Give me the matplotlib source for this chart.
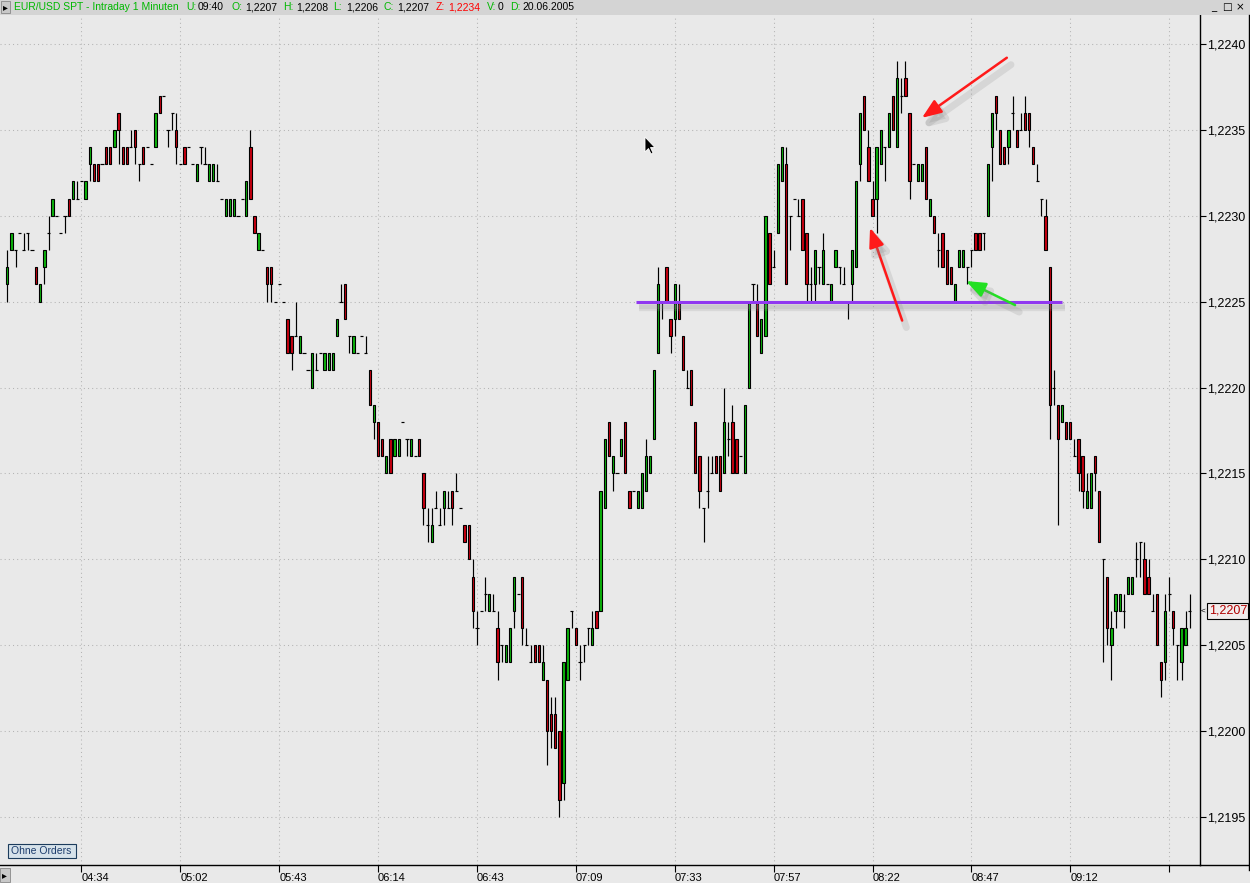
import matplotlib
matplotlib.use('Agg')
import matplotlib.pyplot as plt
from matplotlib.patches import Rectangle, Polygon
from matplotlib.transforms import IdentityTransform
import matplotlib.patheffects as pe

# ---------------- data (1-minute candles, values in pips above 1.2200) -------------
BASE = 1.2200
PIP = 0.0001

OPEN = [26,28,28,29,28,29,28,27,25,27,29,30,30,29,30,31,31,31,32,31,33,33,33,33,
        34,34,34,36,34,34,34,35,33,34,34,33,34,37,37,35,36,35,33,34,34,33,32,34,
        33,32,32,32,31,30,30,30,30,31,30,34,30,28,28,27,27,25,26,25,24,23,23,22,
        22,21,20,21,22,21,21,21,23,25,26,23,22,22,23,22,21,18,18,17,15,17,16,16,
        18,17,16,16,17,15,12,11,13,12,13,13,14,14,13,12,12,9,6,7,8,7,7,6,
        5,4,4,7,8,9,5,4,5,5,3,3,1,1,0,-3,3,7,6,4,5,6,5,7,
        7,13,18,15,15,16,18,14,14,13,13,14,15,17,22,25,27,24,24,25,23,20,21,18,
        16,13,14,15,16,16,15,17,18,17,16,15,20,26,25,22,23,29,27,29,32,33,30,31,
        30,31,29,26,26,27,26,26,25,27,27,26,25,26,27,33,37,34,31,31,33,34,34,37,
        34,37,38,36,33,32,32,34,30,30,28,29,28,27,25,27,27,27,28,29,29,29,30,34,
        37,35,34,34,36,35,35,36,36,34,32,31,30,27,20,19,18,18,18,16,17,16,13,13,
        16,14,10,9,5,7,7,7,8,8,10,11,10,9,7,8,4,4,8,7,5,4,5,7]

HIGH = [28,29,28,29,29,29,28,27,26,28,30,31,30,29,30,31,32,32,32,32,34,33,33,33,
        34,34,35,36,34,34,35,35,33,34,34,33,36,37,37,35,36,36,33,34,34,33,33,34,
        34,33,33,33,31,31,31,31,30,31,32,35,30,29,28,27,27,25,26,25,24,23,25,23,
        22,21,22,22,22,22,22,22,24,26,26,23,23,22,23,23,21,19,18,17,16,17,17,17,
        18,17,17,16,17,15,13,13,14,13,14,14,14,15,13,12,12,10,7,7,9,8,8,7,
        5,5,6,9,8,9,6,5,5,5,5,3,2,2,0,4,6,7,6,5,5,6,7,7,
        14,17,18,16,15,17,18,14,14,14,15,17,16,21,27,25,27,24,26,26,23,21,21,18,
        16,13,16,16,16,16,20,18,19,17,16,19,25,26,26,24,30,29,28,33,34,34,30,31,
        31,31,29,27,28,27,29,26,26,28,27,27,25,28,32,36,37,35,32,34,35,34,36,37,
        39,38,39,36,33,33,33,34,31,30,29,29,28,27,26,28,28,27,28,29,29,29,33,36,
        37,35,34,35,37,35,36,37,36,34,33,31,31,27,21,19,19,18,18,17,17,16,15,15,
        16,14,10,9,7,8,8,8,9,9,11,11,11,10,8,8,4,8,9,7,5,6,7,8]

LOW = [25,28,27,29,28,28,28,26,25,26,28,30,30,29,29,30,31,31,32,31,32,32,32,33,
       33,33,34,33,33,33,34,33,32,33,34,33,34,36,37,34,35,33,33,33,34,33,32,33,
       33,32,32,32,31,30,30,30,30,31,30,31,29,28,28,25,25,25,26,25,22,21,23,22,
       22,21,20,21,22,21,21,21,23,25,24,22,22,22,23,22,19,17,16,16,15,15,16,16,
       18,16,16,16,16,12,11,11,13,12,12,13,12,14,13,11,10,6,5,7,7,7,7,3,
       4,4,4,6,8,5,5,4,4,4,3,-2,-1,-1,-5,-4,3,6,5,3,4,5,5,6,
       7,13,16,14,15,16,15,13,14,13,13,14,15,17,22,24,25,22,23,24,21,20,19,15,
       13,11,13,15,15,14,15,16,15,15,16,15,20,25,23,22,23,26,27,29,32,26,28,31,
       30,28,25,25,25,26,26,26,25,27,26,26,24,25,27,32,35,32,30,29,33,32,34,35,
       34,36,37,31,33,32,32,31,30,29,27,27,26,26,25,27,27,26,27,28,28,28,30,32,
       35,33,33,33,35,34,35,35,34,33,32,30,28,17,19,12,18,17,17,16,14,13,13,13,
       14,11,4,5,3,6,7,6,8,8,9,9,8,8,7,5,2,3,7,5,3,3,5,6]

CLOSE = [27,29,28,29,28,29,28,26,26,28,29,31,30,29,30,30,32,31,32,32,34,32,32,33,
         33,33,35,35,33,33,34,34,33,33,34,33,36,36,37,35,36,34,33,33,34,33,33,34,
         33,33,33,32,31,31,31,31,30,31,32,31,29,29,28,26,26,25,26,25,22,22,23,23,
         22,21,22,21,22,22,22,22,24,25,24,23,23,22,23,22,19,19,16,16,16,15,17,17,
         18,17,17,16,16,13,12,12,13,12,14,13,13,14,13,11,10,7,6,7,8,8,7,4,
         5,5,6,9,8,6,5,4,4,4,4,0,0,-1,-4,4,6,7,5,4,5,6,6,6,
         14,17,16,16,15,17,15,13,14,14,15,16,16,21,26,25,25,23,26,24,21,20,19,15,
         14,13,14,15,15,14,18,17,15,15,16,19,25,26,23,24,30,26,27,33,34,26,30,31,
         30,28,26,26,28,27,28,26,26,28,27,26,25,28,32,36,35,32,30,34,35,34,36,35,
         38,37,37,32,33,33,33,31,31,29,28,27,26,26,26,28,28,27,28,28,28,29,33,36,
         36,33,33,35,36,34,35,35,35,33,32,31,28,19,20,17,19,17,17,16,15,14,14,15,
         15,11,10,6,6,8,8,7,9,9,10,11,8,8,7,5,3,7,8,6,5,6,6,7]

TIME_TICK_IDX = [18, 42, 66, 90, 114, 138, 162, 186, 210, 234, 258, 282]
TIME_LABELS = ['04:34', '05:02', '05:43', '06:14', '06:43', '07:09', '07:33',
               '07:57', '08:22', '08:47', '09:12', '']
PRICE_TICKS = [1.2195, 1.2200, 1.2205, 1.2210, 1.2215, 1.2220, 1.2225, 1.2230,
               1.2235, 1.2240]
LAST_PRICE = 1.2207
SUPPORT_LEVEL = 1.2225
SUPPORT_FROM, SUPPORT_TO = 152.6, 256.0
HEADER = [('EUR/USD SPT - Intraday 1 Minuten', 'g'), ('U:', 'g'), ('09:40', 'k'),
          ('O:', 'g'), ('1,2207', 'k'), ('H:', 'g'), ('1,2208', 'k'),
          ('L:', 'g'), ('1,2206', 'k'), ('C:', 'g'), ('1,2207', 'k'),
          ('Z:', 'r'), ('1,2234', 'r'), ('V:', 'g'), ('0', 'k'),
          ('D:', 'g'), ('20.06.2005', 'k')]
HEADER_X = [14, 186, 198, 231, 245, 283, 296, 333, 346, 384, 397, 436, 448,
            487, 498, 510, 522]
# arrows (tail index, tail price, head index, head price)
ARROWS = [((242.6, 1.22392), (222.0, 1.22357), '#ff1a1a'),
          ((217.2, 1.22239), (209.4, 1.22293), '#ff1a1a'),
          ((244.6, 1.22248), (232.7, 1.22262), '#22e022')]

n = len(OPEN)
if not (len(HIGH) == len(LOW) == len(CLOSE) == n == 288):
    raise SystemExit(f"length mismatch {len(OPEN)} {len(HIGH)} {len(LOW)} {len(CLOSE)}")

BG = '#e9e9e9'
GREEN = '#0cb40c'
RED = '#c80010'
GRID = '#b4b4b4'
FONT = 'Liberation Sans'
W, H = 1250, 883

fig = plt.figure(figsize=(12.5, 8.83), dpi=100)
fig.patch.set_facecolor(BG)
ax = fig.add_axes([0, 18 / H, 1200 / W, 850 / H])
ax.set_facecolor(BG)
ax.set_xlim(-1.772, 289.49)
ax.set_ylim(1.2192206, 1.2241688)

# grid
for p in PRICE_TICKS:
    ax.axhline(p, color=GRID, lw=0.75, ls=(0, (1, 3)), zorder=0)
for t in TIME_TICK_IDX:
    ax.axvline(t, color=GRID, lw=0.75, ls=(0, (1, 3)), zorder=0)

# candles
wx, wlo, whi = [], [], []
dx, dy = [], []
for i in range(n):
    o = BASE + OPEN[i] * PIP
    c = BASE + CLOSE[i] * PIP
    hi = BASE + max(HIGH[i], OPEN[i], CLOSE[i]) * PIP
    lo = BASE + min(LOW[i], OPEN[i], CLOSE[i]) * PIP
    if hi > lo:
        wx.append(i); wlo.append(lo); whi.append(hi)
    if c == o:
        dx.append(i); dy.append(o)
    else:
        col = GREEN if c > o else RED
        ax.add_patch(Rectangle((i - 0.28, min(o, c)), 0.56, abs(c - o),
                               facecolor=col, edgecolor='black', lw=0.8, zorder=3))
ax.vlines(wx, wlo, whi, color='black', lw=0.85, zorder=2)
ax.hlines(dy, [x - 0.38 for x in dx], [x + 0.38 for x in dx], color='black',
          lw=0.85, zorder=2)

# support line
ax.plot([SUPPORT_FROM, SUPPORT_TO], [SUPPORT_LEVEL, SUPPORT_LEVEL], color='#9038f0',
        lw=2.2, solid_capstyle='butt', zorder=5,
        path_effects=[pe.SimpleLineShadow(offset=(2, -4), shadow_color='#909090',
                                          alpha=0.18, linewidth=6),
                      pe.SimpleLineShadow(offset=(2, -4), shadow_color='#909090',
                                          alpha=0.18, linewidth=3),
                      pe.Normal()])

# arrows
for (tail, head, col) in ARROWS:
    ann = ax.annotate('', xy=head, xytext=tail, zorder=6,
                      arrowprops=dict(arrowstyle='-|>,head_length=0.9,head_width=0.35',
                                      color=col, lw=1.8, mutation_scale=13,
                                      shrinkA=0, shrinkB=0))
    ann.arrow_patch.set_path_effects([
        pe.SimpleLineShadow(offset=(3, -5), shadow_color='#808080', alpha=0.18, linewidth=5),
        pe.SimplePatchShadow(offset=(3, -5), shadow_rgbFace='#808080', alpha=0.18),
        pe.Normal()])

# axes styling
for s in ('top', 'left'):
    ax.spines[s].set_visible(False)
for s in ('right', 'bottom'):
    ax.spines[s].set_color('black')
    ax.spines[s].set_linewidth(1.0)
ax.yaxis.tick_right()
ax.set_yticks(PRICE_TICKS)
ax.set_yticklabels([f"{p:.4f}".replace('.', ',') for p in PRICE_TICKS],
                   fontfamily=FONT, fontsize=9)
ax.tick_params(axis='y', direction='out', length=4, width=0.8, pad=1, colors='black')
ax.set_xticks(TIME_TICK_IDX)
ax.set_xticklabels(TIME_LABELS, fontfamily=FONT, fontsize=8)
ax.tick_params(axis='x', direction='out', length=5, width=0.8, pad=1)
for lbl in ax.get_xticklabels():
    lbl.set_horizontalalignment('left')

ID = IdentityTransform()
def px(x, y):
    return (x, H - y)

# frame extras
fig.add_artist(plt.Line2D([1200, W], [H - 865, H - 865], color='black', lw=1.0, transform=ID))
fig.add_artist(plt.Line2D([1248.5, 1248.5], [H - 15, H - 870], color='black', lw=1.0, transform=ID))

# header bar
fig.add_artist(Rectangle(px(0, 15), W, 15, facecolor='#d4d4d4', edgecolor='none', transform=ID))
fig.add_artist(Rectangle(px(1, 13), 9, 12, facecolor='#c8c8c8', edgecolor='#888888', lw=0.6, transform=ID))
fig.text(3 / W, 1 - 7.5 / H, '\u25B8', fontsize=7, color='black', va='center', ha='left',
         family='DejaVu Sans')
cmap = {'g': '#00b800', 'k': 'black', 'r': '#ff0000'}
for (txt, c), x in zip(HEADER, HEADER_X):
    fig.text(x / W, 1 - 7.5 / H, txt, color=cmap[c], fontsize=7.5, family=FONT,
             va='center', ha='left')
for x, g in ((1214, '_'), (1227, '\u25A1'), (1240, '\u00D7')):
    fig.text(x / W, 1 - 7 / H, g, fontsize=7.5, family='DejaVu Sans', va='center',
             ha='center', color='black')

# bottom-left button
fig.add_artist(Rectangle(px(0, 882), 10, 14, facecolor='#c8c8c8', edgecolor='#888888',
                         lw=0.6, transform=ID))
fig.text(2 / W, 1 - 875 / H, '\u25B8', fontsize=7, color='black', va='center', ha='left',
         family='DejaVu Sans')

# "Ohne Orders" box
fig.add_artist(Rectangle(px(8, 858), 68, 14, facecolor='#d6e2ea', edgecolor='#1c3c5c',
                         lw=0.8, transform=ID))
fig.text(11 / W, 1 - 851 / H, 'Ohne Orders', fontsize=7.5, family=FONT,
         color='#1c3c6c', va='center', ha='left')

# last price box
y_last = ax.transData.transform((0, LAST_PRICE))[1]
fig.add_artist(Rectangle((1207, y_last - 8), 41, 16, facecolor='#f2ecec', edgecolor='black',
                         lw=0.8, transform=ID))
fig.text(1209 / W, y_last / H, f"{LAST_PRICE:.4f}".replace('.', ','), fontsize=9,
         family=FONT, color='#b00000', va='center', ha='left')
fig.text(1201 / W, y_last / H, '<', fontsize=6, family=FONT, color='black',
         va='center', ha='left')

# mouse cursor
cx, cy = 645, 137
shape = [(0, 0), (0, 15), (3.5, 11.5), (6, 17), (8, 16), (5.5, 10.5), (10, 10.5)]
fig.add_artist(Polygon([px(cx + a, cy + b) for a, b in shape], closed=True,
                       facecolor='black', edgecolor='white', lw=0.6, transform=ID))

fig.savefig('out.png', dpi=100, facecolor=BG)
